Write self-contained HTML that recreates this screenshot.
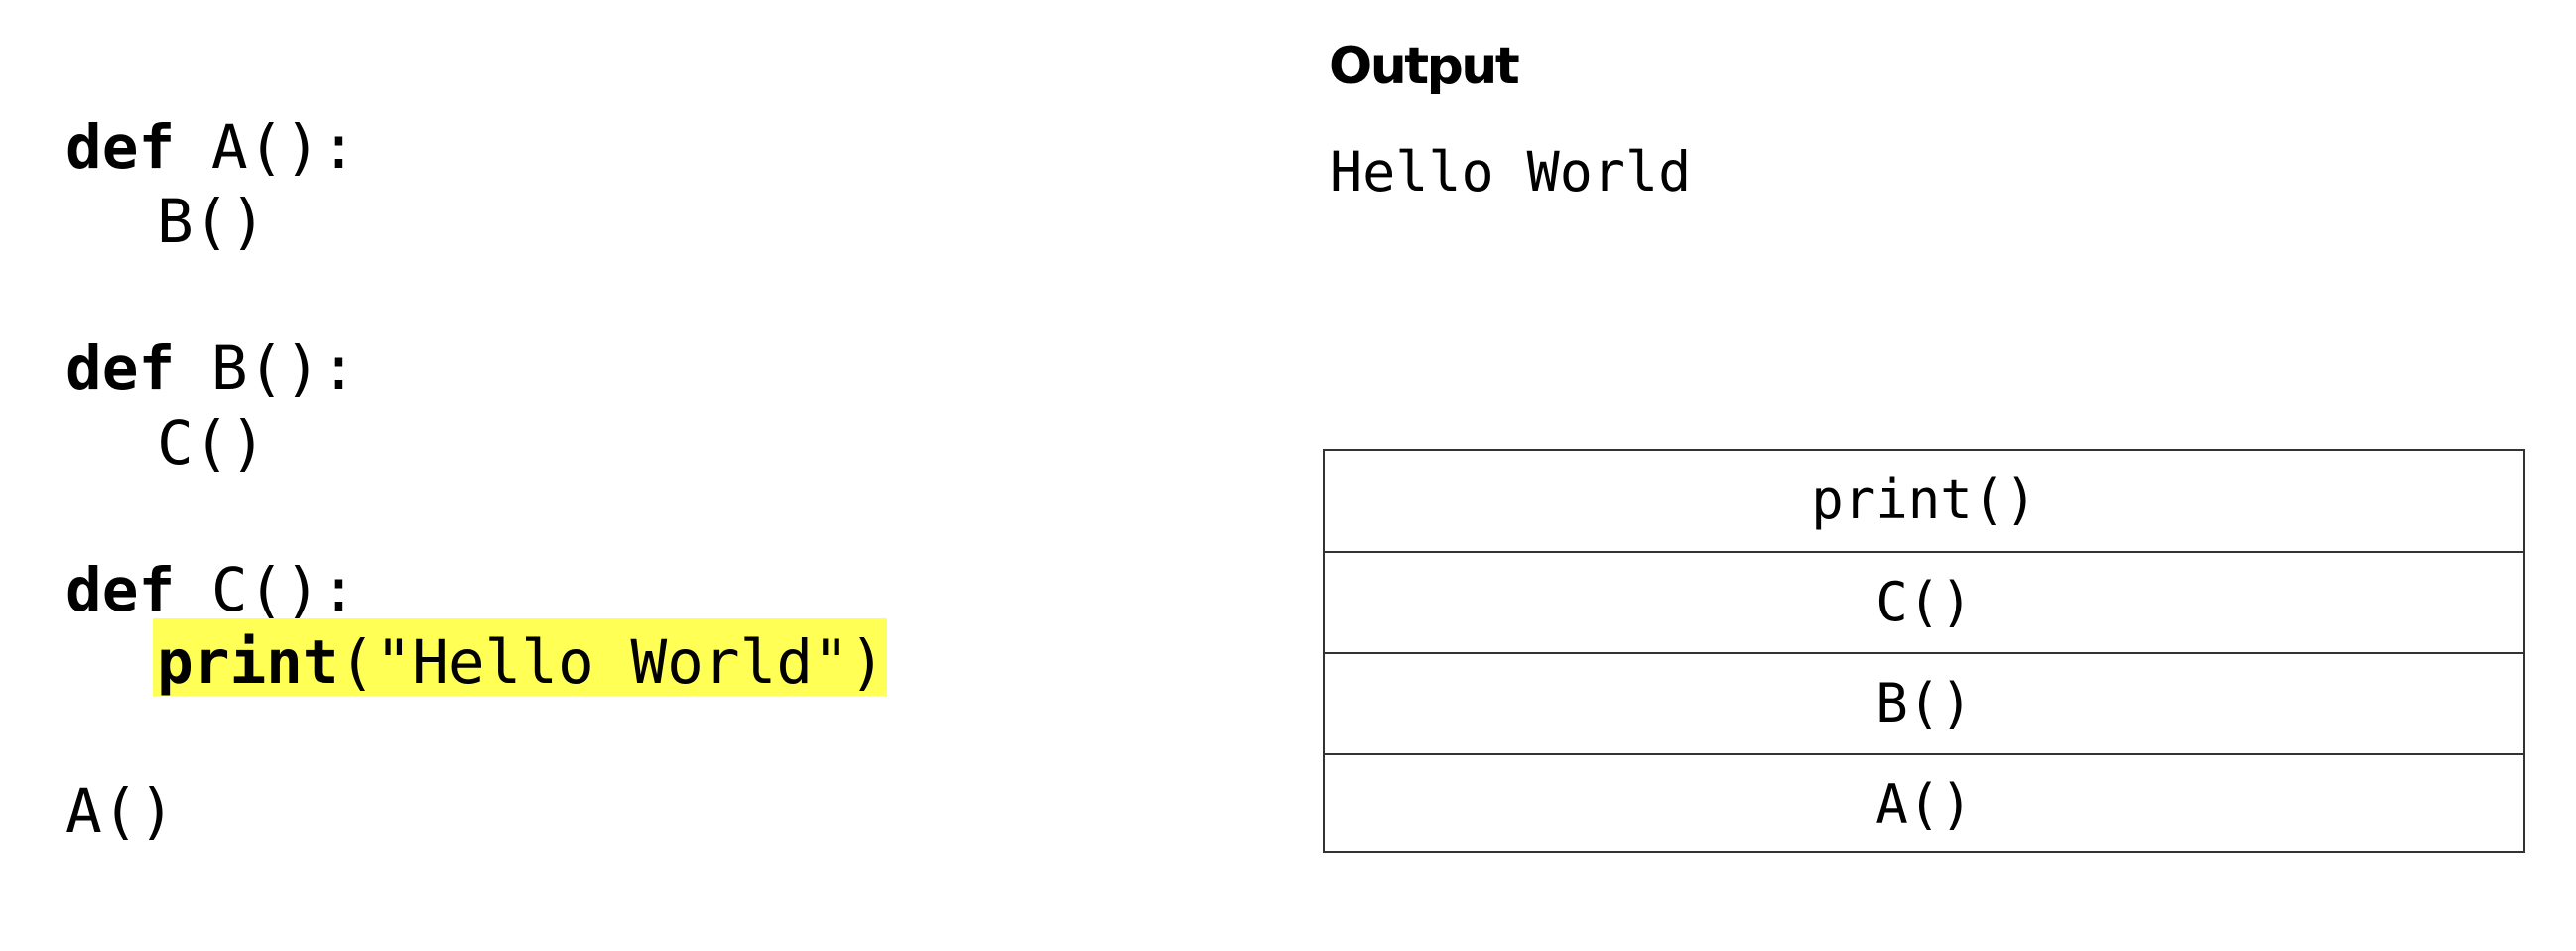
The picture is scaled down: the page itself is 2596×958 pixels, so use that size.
<!DOCTYPE html>
<html><head><style>
html,body{margin:0;padding:0;background:#fff;width:2596px;height:958px;overflow:hidden;position:relative}
.m{font-family:"DejaVu Sans Mono","Liberation Mono",monospace;position:absolute;white-space:pre;color:#000}
.c{font-size:61px;line-height:75px}
b{font-weight:bold}
.hl{position:absolute;left:154px;top:623px;width:740px;height:78px;background:#ffff55}
.title{position:absolute;left:1339px;top:37px;font-family:"DejaVu Sans","Liberation Sans",sans-serif;font-weight:bold;font-size:52px;letter-spacing:-2.5px}
.tb{position:absolute;left:1333px;top:452px;width:1208px;height:403px;border:2px solid #333}
.r{height:100px;border-top:2px solid #333;text-align:center;font-family:"DejaVu Sans Mono","Liberation Mono",monospace;font-size:54px;line-height:100px}
.r:first-child{border-top:none;height:101px}
</style></head><body>
<div class="hl"></div>
<div class="m c" style="left:66px;top:111px"><b>def</b> A():</div>
<div class="m c" style="left:158px;top:186px">B()</div>
<div class="m c" style="left:66px;top:334px"><b>def</b> B():</div>
<div class="m c" style="left:158px;top:409px">C()</div>
<div class="m c" style="left:66px;top:557px"><b>def</b> C():</div>
<div class="m c" style="left:158px;top:630px"><b>print</b>("Hello World")</div>
<div class="m c" style="left:66px;top:780px">A()</div>
<div class="title">Output</div>
<div class="m" style="left:1340px;top:141px;font-size:55px">Hello World</div>
<div class="tb"><div class="r">print()</div><div class="r">C()</div><div class="r">B()</div><div class="r">A()</div></div>
</body></html>
